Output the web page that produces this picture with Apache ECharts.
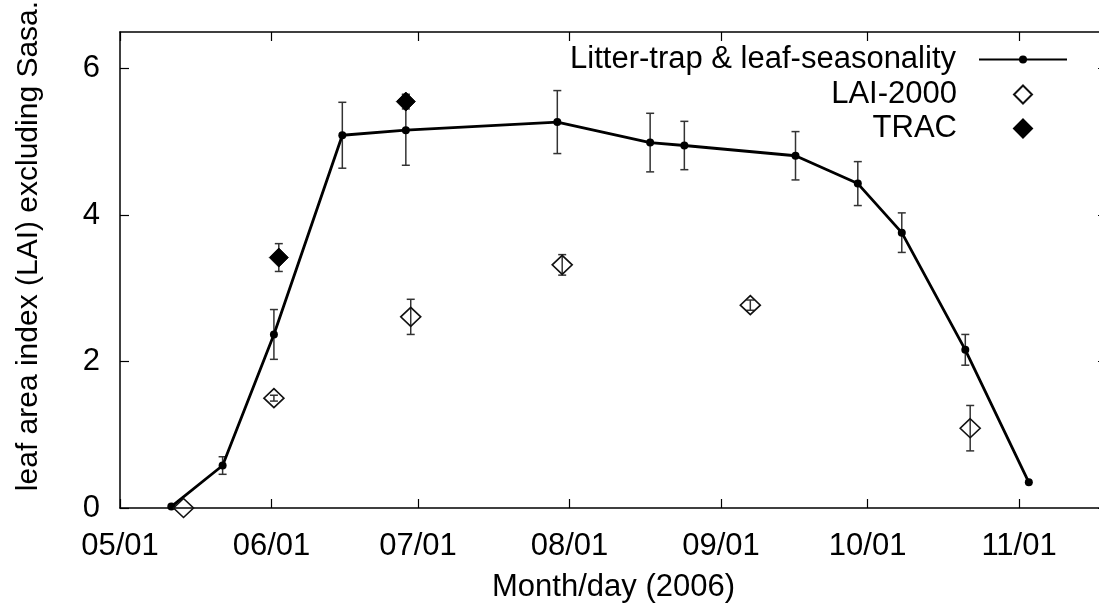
<!DOCTYPE html>
<html>
<head>
<meta charset="utf-8">
<script src="https://cdn.jsdelivr.net/npm/echarts@6/dist/echarts.min.js"></script>
<style>
html,body{margin:0;padding:0;background:#fff;}
#c{width:1099px;height:614px;}
</style>
</head>
<body>
<div id="c"></div>
<script>
// ---- data ----
const litterDates = ['2006-05-11 12:00','2006-05-22','2006-06-01 12:00','2006-06-15 12:00','2006-06-28 12:00','2006-07-29 12:00','2006-08-17 12:00','2006-08-24 12:00','2006-09-16 06:00','2006-09-29','2006-10-08','2006-10-21','2006-11-03'];
const litterValues = [0.02, 0.58, 2.37, 5.09, 5.16, 5.27, 4.99, 4.95, 4.81, 4.43, 3.76, 2.16, 0.35];
const litterErr = [0, 0.12, 0.34, 0.45, 0.48, 0.43, 0.40, 0.33, 0.33, 0.30, 0.27, 0.21, 0];

const laiDates = ['2006-05-14','2006-06-01 12:00','2006-06-29 12:00','2006-07-30 12:00','2006-09-07','2006-10-22'];
const laiValues = [0.0, 1.50, 2.61, 3.32, 2.77, 1.09];
const laiErr = [0, 0.04, 0.24, 0.14, 0.07, 0.31];

const tracDates = ['2006-06-02 12:00','2006-06-28 12:00'];
const tracValues = [3.42, 5.55];
const tracErr = [0.19, 0.10];

const monthTicks = ['2006-05-01','2006-06-01','2006-07-01','2006-08-01','2006-09-01','2006-10-01','2006-11-01'];
const xMin = '2006-05-01';
const xMax = '2006-11-19';
const yTicks = [0, 2, 4, 6];

const seriesNames = ['Litter-trap & leaf-seasonality', 'LAI-2000', 'TRAC'];
const xTitle = 'Month/day (2006)';
const yTitle = 'leaf area index (LAI) excluding Sasa.';

// ---- helpers: dates -> days since xMin (UTC based, no DST issues) ----
function ms(s) {
  const [d, h] = s.split(' ');
  const [Y, M, D] = d.split('-').map(Number);
  let hh = 0, mm = 0;
  if (h) { [hh, mm] = h.split(':').map(Number); }
  return Date.UTC(Y, M - 1, D, hh, mm);
}
const DAY = 86400000;
const base = ms(xMin);
function day(s) { return (ms(s) - base) / DAY; }
function pts(dates, vals) { return dates.map((d, i) => [day(d), vals[i]]); }
function errs(dates, vals, e) {
  const out = [];
  dates.forEach((d, i) => { if (e[i] > 0) out.push([day(d), vals[i] - e[i], vals[i] + e[i]]); });
  return out;
}
function fmt(v) {
  const d = new Date(base + Math.round(v) * DAY);
  const m = d.getUTCMonth() + 1, dd = d.getUTCDate();
  return (m < 10 ? '0' : '') + m + '/' + (dd < 10 ? '0' : '') + dd;
}

const FONT = 'Liberation Sans, Arial, Helvetica, sans-serif';
const FS = 31;
const tickVals = monthTicks.map(day);

function renderErr(params, api) {
  const x = api.value(0);
  const p1 = api.coord([x, api.value(1)]);
  const p2 = api.coord([x, api.value(2)]);
  const w = 4;
  const st = { stroke: '#333', lineWidth: 1.5 };
  return {
    type: 'group',
    children: [
      { type: 'line', shape: { x1: p1[0], y1: p1[1], x2: p2[0], y2: p2[1] }, style: st },
      { type: 'line', shape: { x1: p1[0] - w, y1: p1[1], x2: p1[0] + w, y2: p1[1] }, style: st },
      { type: 'line', shape: { x1: p2[0] - w, y1: p2[1], x2: p2[0] + w, y2: p2[1] }, style: st }
    ]
  };
}

const axisLineStyle = { color: '#000', width: 1.5 };
const baseX = {
  type: 'value', min: 0, max: day(xMax),
  axisLine: { show: true, onZero: false, lineStyle: axisLineStyle },
  axisTick: { show: true, inside: true, length: 9, customValues: tickVals, lineStyle: { color: '#000', width: 1.2 } },
  splitLine: { show: false }
};
const baseY = {
  type: 'value', min: 0, max: 6.5, interval: 2,
  axisLine: { show: true, onZero: false, lineStyle: axisLineStyle },
  axisTick: { show: true, inside: true, length: 9, customValues: yTicks, lineStyle: { color: '#000', width: 1.2 } },
  splitLine: { show: false }
};

const legendText = { fontSize: FS, color: '#000', fontFamily: FONT };

const chart = echarts.init(document.getElementById('c'), null, { renderer: 'canvas' });
chart.setOption({
  animation: false,
  backgroundColor: '#fff',
  textStyle: { fontFamily: FONT, color: '#000' },
  grid: { left: 120, right: -8, top: 32, bottom: 106, containLabel: false, outerBoundsMode: 'none' },
  xAxis: [
    Object.assign({}, baseX, {
      position: 'bottom',
      axisLabel: { show: true, customValues: tickVals, formatter: fmt, fontSize: FS, color: '#000', fontFamily: FONT, margin: 23 },
      name: xTitle, nameLocation: 'middle', nameGap: 64,
      nameTextStyle: { fontSize: FS, color: '#000', fontFamily: FONT }
    }),
    Object.assign({}, baseX, { position: 'top', axisLabel: { show: false } })
  ],
  yAxis: [
    Object.assign({}, baseY, {
      position: 'left',
      axisLabel: { show: true, customValues: yTicks, fontSize: FS, color: '#000', fontFamily: FONT, margin: 20 },
      name: yTitle, nameLocation: 'middle', nameGap: 76,
      nameTextStyle: { fontSize: 30, color: '#000', fontFamily: FONT, padding: [0, 0, 0, 48] }
    }),
    Object.assign({}, baseY, { position: 'right', axisLabel: { show: false } })
  ],
  legend: [
    { data: [seriesNames[0]], right: 31, top: 44, orient: 'vertical', align: 'right', padding: 0,
      itemWidth: 88, itemHeight: 10, selectedMode: false,
      textStyle: Object.assign({ padding: [0, 18, 0, 0] }, legendText) },
    { data: [seriesNames[1]], right: 66, top: 79, orient: 'vertical', align: 'right', padding: 0,
      itemWidth: 18, itemHeight: 18, selectedMode: false, symbolKeepAspect: true,
      textStyle: Object.assign({ padding: [0, 52, 0, 0] }, legendText) },
    { data: [seriesNames[2]], right: 66, top: 113, orient: 'vertical', align: 'right', padding: 0,
      itemWidth: 18, itemHeight: 18, selectedMode: false, symbolKeepAspect: true,
      textStyle: Object.assign({ padding: [0, 52, 0, 0] }, legendText) }
  ],
  series: [
    { type: 'custom', name: 'litterErr', renderItem: renderErr, data: errs(litterDates, litterValues, litterErr), z: 1, silent: true },
    { type: 'custom', name: 'laiErr', renderItem: renderErr, data: errs(laiDates, laiValues, laiErr), z: 1, silent: true },
    { type: 'custom', name: 'tracErr', renderItem: renderErr, data: errs(tracDates, tracValues, tracErr), z: 1, silent: true },
    { type: 'line', name: seriesNames[0], data: pts(litterDates, litterValues),
      symbol: 'circle', symbolSize: 8, showAllSymbol: true,
      lineStyle: { color: '#000', width: 2.8 }, itemStyle: { color: '#000' }, z: 3 },
    { type: 'scatter', name: seriesNames[1], data: pts(laiDates, laiValues),
      symbol: 'diamond', symbolSize: [20, 19],
      itemStyle: { color: 'rgba(255,255,255,0)', borderColor: '#111', borderWidth: 1.6, opacity: 1 }, z: 4 },
    { type: 'scatter', name: seriesNames[2], data: pts(tracDates, tracValues),
      symbol: 'diamond', symbolSize: [19, 19],
      itemStyle: { color: '#000', borderColor: '#000', borderWidth: 1, opacity: 1 }, z: 4 }
  ]
});
</script>
</body>
</html>
